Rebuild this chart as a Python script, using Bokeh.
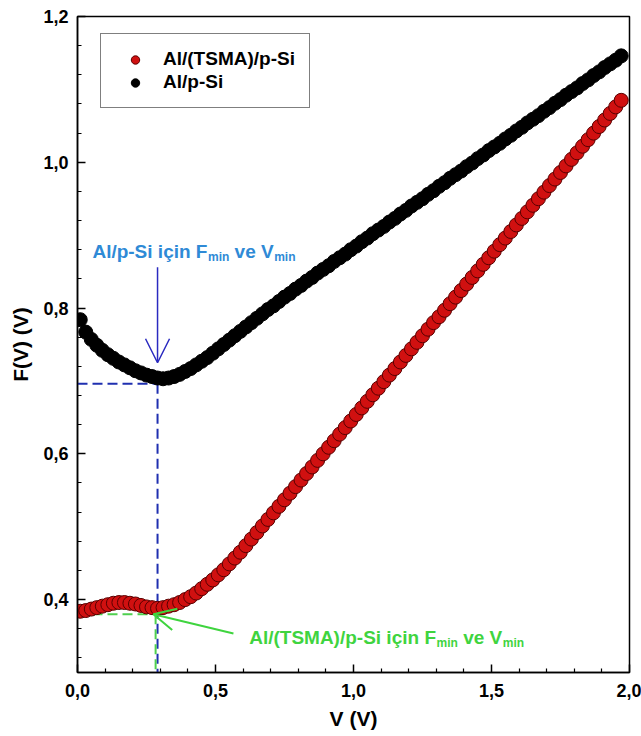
from bokeh.plotting import figure
from bokeh.models import (Range1d, FixedTicker, CustomJSTickFormatter, Legend, LegendItem,
                          Label, Arrow, OpenHead)
from bokeh.embed import file_html
from bokeh.resources import INLINE

# ---------------- data ----------------
V = [0.01, 0.03, 0.05, 0.07, 0.09, 0.11, 0.13, 0.15, 0.17, 0.19,
     0.21, 0.23, 0.25, 0.27, 0.29, 0.31, 0.33, 0.35, 0.37, 0.39,
     0.41, 0.43, 0.45, 0.47, 0.49, 0.51, 0.53, 0.55, 0.57, 0.59,
     0.61, 0.63, 0.65, 0.67, 0.69, 0.71, 0.73, 0.75, 0.77, 0.79,
     0.81, 0.83, 0.85, 0.87, 0.89, 0.91, 0.93, 0.95, 0.97, 0.99,
     1.01, 1.03, 1.05, 1.07, 1.09, 1.11, 1.13, 1.15, 1.17, 1.19,
     1.21, 1.23, 1.25, 1.27, 1.29, 1.31, 1.33, 1.35, 1.37, 1.39,
     1.41, 1.43, 1.45, 1.47, 1.49, 1.51, 1.53, 1.55, 1.57, 1.59,
     1.61, 1.63, 1.65, 1.67, 1.69, 1.71, 1.73, 1.75, 1.77, 1.79,
     1.81, 1.83, 1.85, 1.87, 1.89, 1.91, 1.93, 1.95, 1.97]

F_al_psi = [0.784, 0.767, 0.757, 0.749, 0.742, 0.736, 0.731, 0.726, 0.722, 0.718,
            0.714, 0.711, 0.708, 0.706, 0.704, 0.703, 0.704, 0.706, 0.709, 0.713,
            0.717, 0.722, 0.727, 0.732, 0.738, 0.744, 0.750, 0.756, 0.762, 0.768,
            0.774, 0.780, 0.786, 0.792, 0.798, 0.803, 0.809, 0.815, 0.820, 0.826,
            0.831, 0.837, 0.842, 0.848, 0.853, 0.858, 0.864, 0.869, 0.874, 0.880,
            0.885, 0.891, 0.896, 0.902, 0.907, 0.912, 0.918, 0.923, 0.929, 0.934,
            0.940, 0.945, 0.950, 0.956, 0.961, 0.967, 0.972, 0.978, 0.983, 0.988,
            0.994, 0.999, 1.005, 1.010, 1.016, 1.021, 1.026, 1.032, 1.037, 1.043,
            1.048, 1.054, 1.059, 1.064, 1.070, 1.075, 1.081, 1.086, 1.092, 1.097,
            1.102, 1.108, 1.113, 1.119, 1.124, 1.130, 1.135, 1.140, 1.146]

F_al_tsma_psi = [0.384, 0.385, 0.387, 0.389, 0.391, 0.393, 0.395, 0.396, 0.396, 0.395,
                 0.394, 0.392, 0.390, 0.389, 0.388, 0.389, 0.391, 0.393, 0.396, 0.400,
                 0.404, 0.409, 0.415, 0.421, 0.427, 0.434, 0.441, 0.449, 0.457, 0.465,
                 0.474, 0.483, 0.492, 0.501, 0.510, 0.519, 0.528, 0.537, 0.546, 0.555,
                 0.564, 0.573, 0.582, 0.591, 0.600, 0.609, 0.618, 0.627, 0.636, 0.645,
                 0.654, 0.663, 0.672, 0.681, 0.690, 0.699, 0.708, 0.717, 0.726, 0.735,
                 0.744, 0.753, 0.762, 0.771, 0.780, 0.788, 0.797, 0.806, 0.815, 0.824,
                 0.833, 0.842, 0.851, 0.860, 0.869, 0.878, 0.887, 0.896, 0.905, 0.914,
                 0.923, 0.932, 0.941, 0.950, 0.959, 0.968, 0.977, 0.986, 0.995, 1.004,
                 1.013, 1.022, 1.031, 1.040, 1.049, 1.058, 1.067, 1.076, 1.085]

series_labels = ["Al/(TSMA)/p-Si", "Al/p-Si"]
x_major = [0.0, 0.5, 1.0, 1.5, 2.0]
x_minor = [0.1, 0.2, 0.3, 0.4, 0.6, 0.7, 0.8, 0.9, 1.1, 1.2, 1.3, 1.4, 1.6, 1.7, 1.8, 1.9]
y_major = [0.4, 0.6, 0.8, 1.0, 1.2]
y_minor = [0.32, 0.36, 0.44, 0.48, 0.52, 0.56, 0.64, 0.68, 0.72, 0.76,
           0.84, 0.88, 0.92, 0.96, 1.04, 1.08, 1.12, 1.16]

# minima marked on the chart
vmin_black, fmin_black = 0.29, 0.696
vmin_red, fmin_red = 0.283, 0.380

FONT = "Liberation Sans"

p = figure(width=641, height=736, output_backend="svg", toolbar_location=None,
           x_range=Range1d(0.0, 2.0), y_range=Range1d(0.3, 1.2), title=None,
           min_border_left=77, min_border_right=12, min_border_top=16, min_border_bottom=64)
p.xgrid.visible = False
p.ygrid.visible = False
p.outline_line_color = "black"
p.outline_line_width = 1.5
p.background_fill_color = "white"
p.border_fill_color = "white"

fmt = CustomJSTickFormatter(code="return tick.toFixed(1).replace('.', ',');")
for ax, maj, mnr in ((p.xaxis[0], x_major, x_minor), (p.yaxis[0], y_major, y_minor)):
    ax.ticker = FixedTicker(ticks=maj, minor_ticks=mnr)
    ax.formatter = fmt
    ax.major_tick_in = 8
    ax.major_tick_out = 0
    ax.minor_tick_in = 4
    ax.minor_tick_out = 0
    ax.axis_line_width = 1.5
    ax.major_tick_line_width = 1.5
    ax.minor_tick_line_width = 1.2
    ax.major_label_text_font = FONT
    ax.major_label_text_font_style = "bold"
    ax.major_label_text_font_size = "18px"
    ax.major_label_text_color = "black"
    ax.axis_label_text_font = FONT
    ax.axis_label_text_font_style = "bold"
    ax.axis_label_text_font_size = "21px"
    ax.axis_label_text_color = "black"
p.xaxis.axis_label = "V (V)"
p.yaxis.axis_label = "F(V) (V)"
p.xaxis.major_label_standoff = 11
p.yaxis.major_label_standoff = 9
p.xaxis.axis_label_standoff = 7
p.yaxis.axis_label_standoff = 8

# dashed guide lines (drawn under the dots)
blue_dash = "#1f2fb0"
green_dash = "#4fd04f"
p.segment(x0=[0.0, vmin_black], y0=[fmin_black, fmin_black], x1=[vmin_black, vmin_black],
          y1=[fmin_black, 0.3], line_color=blue_dash, line_width=2, line_dash="10 5")
p.segment(x0=[0.0, vmin_red], y0=[fmin_red, fmin_red], x1=[vmin_red, vmin_red],
          y1=[fmin_red, 0.3], line_color=green_dash, line_width=2, line_dash="10 5")

r_black = p.scatter(V, F_al_psi, size=14, fill_color="black", line_color="black")
r_red = p.scatter(V, F_al_tsma_psi, size=14, fill_color="#d01010", line_color="#5a0000",
                  line_width=1)

legend = Legend(items=[LegendItem(label=series_labels[0], renderers=[r_red]),
                       LegendItem(label=series_labels[1], renderers=[r_black])],
                location=(23, 564))
legend.label_text_font = FONT
legend.label_text_font_style = "bold"
legend.label_text_font_size = "19px"
legend.label_text_color = "black"
legend.border_line_color = "black"
legend.border_line_width = 1.5
legend.background_fill_alpha = 1.0
legend.padding = 14
legend.spacing = 1
legend.margin = 0
legend.glyph_width = 40
legend.glyph_height = 21
legend.label_height = 21
legend.label_standoff = 8
p.add_layout(legend, "center")

# ---- annotations with subscripts ----
W = {"A": .722, "l": .278, "/": .278, "p": .611, "-": .333, "S": .667, "i": .278, " ": .278,
     "ç": .556, "n": .611, "F": .611, "m": .889, "v": .556, "e": .556, "V": .667,
     "(": .333, ")": .333, "T": .611, "M": .833}


def tw(s, size):
    return sum(W.get(c, .6) for c in s) * size


def sub_text(x, y, prefix, color, size=19, sub_size=12, sub_drop=0.0075):
    # (text, font size, drop below baseline, gap before piece in px)
    parts = [(prefix + "F", size, 0.0, 0.0), ("min", sub_size, sub_drop, 0.5),
             ("ve V", size, 0.0, tw(" ", size)), ("min", sub_size, sub_drop, 0.5)]
    off = 0.0
    for txt, sz, drop, gap in parts:
        off += gap
        p.add_layout(Label(x=x, y=y - drop, x_offset=off, text=txt, text_color=color,
                           text_font=FONT, text_font_style="bold", text_font_size=f"{sz}px",
                           text_baseline="alphabetic", text_align="left"))
        off += tw(txt, sz)


sub_text(0.054, 0.878, "Al/p-Si için ", "#2f8ad6")
sub_text(0.622, 0.348, "Al/(TSMA)/p-Si için ", "#3fd43f")

p.add_layout(Arrow(end=OpenHead(size=24, line_color="#2a2ac0", line_width=1.5),
                   x_start=vmin_black, y_start=0.856, x_end=vmin_black, y_end=0.725,
                   line_color="#2a2ac0", line_width=1.5))
p.add_layout(Arrow(end=OpenHead(size=22, line_color="#3fd43f", line_width=2),
                   x_start=0.565, y_start=0.3535, x_end=0.275, y_end=0.380,
                   line_color="#3fd43f", line_width=2))

open("out.html", "w").write(file_html(p, INLINE))
